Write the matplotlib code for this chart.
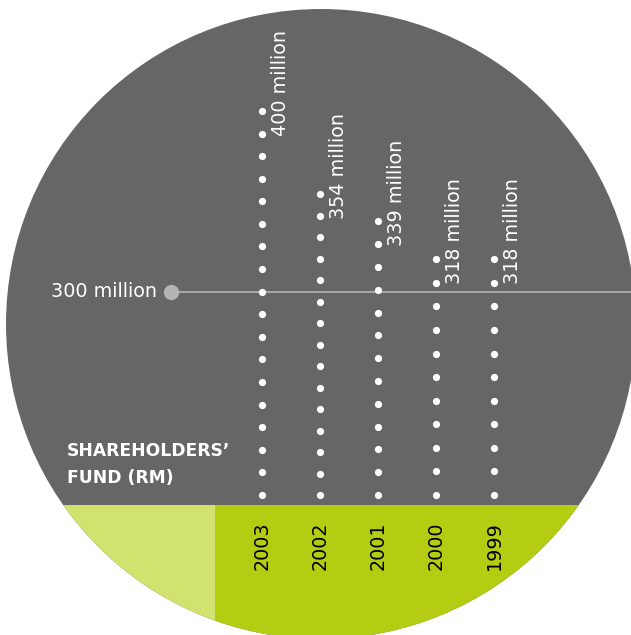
import numpy as np
import matplotlib
matplotlib.use("Agg")
import matplotlib.pyplot as plt
from matplotlib.patches import Circle, Rectangle
from matplotlib import transforms

# ---- Data ----
years = ["2003", "2002", "2001", "2000", "1999"]
funds_rm_million = [400, 354, 339, 318, 318]
dots_per_column = [18, 15, 13, 11, 11]
value_labels = ["400 million", "354 million", "339 million", "318 million", "318 million"]
ref_value = 300
ref_label = "300 million"
title_lines = ["SHAREHOLDERS\u2019", "FUND (RM)"]

# ---- Style ----
GREY = "#666666"
GREEN = "#b4cd12"
LIGHT_GREEN = "#d1e26e"
REF_GREY = "#b4b4b4"
W, H = 631, 635
FONT = "DejaVu Sans"
LABEL_SIZE = 13.8

fig = plt.figure(figsize=(W / 100, H / 100), dpi=100)

# background disc + bottom band, drawn in pixel units
bg = fig.add_axes([0, 0, 1, 1])
bg.set_xlim(0, W)
bg.set_ylim(H, 0)
bg.axis("off")

disc = Circle((321, 324), 315, facecolor=GREY, edgecolor="none")
bg.add_patch(disc)
band_dark = Rectangle((215, 505), W, H, facecolor=GREEN, edgecolor="none")
band_light = Rectangle((0, 505), 215, H, facecolor=LIGHT_GREEN, edgecolor="none")
for p in (band_dark, band_light):
    bg.add_patch(p)
    p.set_clip_path(disc)

# data axes laid over the disc
ax = fig.add_axes([0, 0, 1, 1])
ax.patch.set_alpha(0)
ax.axis("off")
col_px = 58.0            # pixel distance between columns
first_col_px = 262.0
ax.set_xlim(-first_col_px / col_px, (W - first_col_px) / col_px)
# value scale: ~1.81 px per million, bottom dot row sits at the base value
px_per_m = 1.809
ax.set_ylim(345.8 - (H - 209) / px_per_m, 345.8 + 209 / px_per_m)
base_value = 345.8 - (495 - 209) / px_per_m

x = np.arange(len(years))

# reference line at 300 million
ref_x0 = 171 / W
ref_tr = transforms.blended_transform_factory(ax.transAxes, ax.transData)
ax.axhline(ref_value, xmin=ref_x0, xmax=1, color=REF_GREY, lw=1.2, zorder=2)
ax.plot([ref_x0], [ref_value], "o", transform=ref_tr,
        ms=11, color=REF_GREY, mec="none", zorder=3)
ax.text(ref_x0 - 14 / W, ref_value, ref_label, transform=ref_tr,
        ha="right", va="center", color="white", fontsize=LABEL_SIZE, family=FONT)

# dotted columns
for xi, v, n in zip(x, funds_rm_million, dots_per_column):
    ys = np.linspace(base_value, v, n)
    ax.plot(np.full(n, xi), ys, "o", ms=5.2, color="white", mec="none", zorder=4)

# value labels next to the top dots
lbl_tr = transforms.offset_copy(ax.transData, fig=fig, x=18, y=-25, units="dots")
for xi, v, s in zip(x, funds_rm_million, value_labels):
    ax.text(xi, v, s, transform=lbl_tr, rotation=90, ha="center", va="bottom",
            color="white", fontsize=LABEL_SIZE, family=FONT)

# year labels in the green band
yr_tr = transforms.blended_transform_factory(ax.transData, ax.transAxes)
for xi, yr in zip(x, years):
    ax.text(xi, 1 - 546 / H, yr, transform=yr_tr, rotation=90, ha="center", va="center",
            color="black", fontsize=LABEL_SIZE, family=FONT)

# title
fig.text(67 / W, 1 - 451 / H, title_lines[0], ha="left", va="center", color="white",
         fontsize=12.3, fontweight="bold", family=FONT)
fig.text(67 / W, 1 - 478 / H, title_lines[1], ha="left", va="center", color="white",
         fontsize=12.3, fontweight="bold", family=FONT)

fig.savefig("out.png", dpi=100, facecolor="white")
